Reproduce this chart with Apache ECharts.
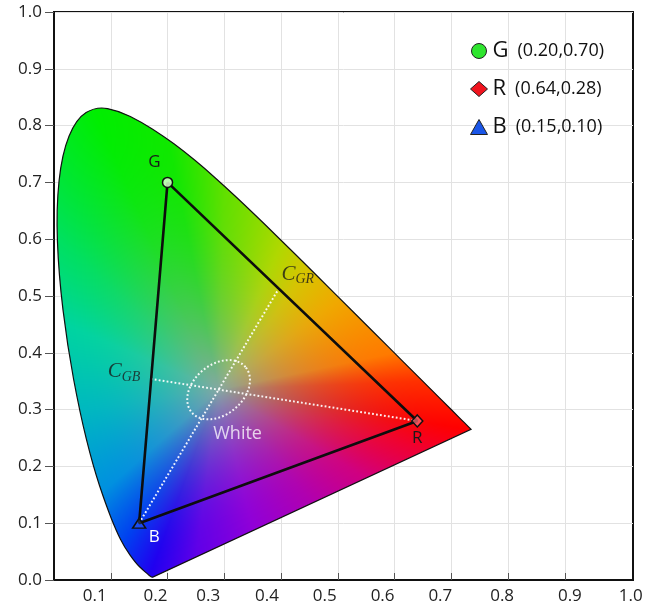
<!DOCTYPE html>
<html>
<head>
<meta charset="utf-8">
<script src="https://cdn.jsdelivr.net/npm/echarts/dist/echarts.min.js"></script>
<style>
  html, body { margin: 0; padding: 0; background: #fff; }
  #main { width: 659px; height: 608px; }
</style>
</head>
<body>
<div id="main"></div>
<script>
// CIE 1931 spectral locus (x, y), 380 nm -> 700 nm
const locusX = [0.1741, 0.1714, 0.1644, 0.1566, 0.1440, 0.1241, 0.1096, 0.0913, 0.0687, 0.0454,
                0.0235, 0.0082, 0.0039, 0.0139, 0.0389, 0.0743, 0.1142, 0.1547, 0.1929, 0.2296,
                0.2658, 0.3016, 0.3373, 0.3731, 0.4087, 0.4441, 0.4788, 0.5125, 0.5448, 0.5752,
                0.6029, 0.6270, 0.6658, 0.6915, 0.7079, 0.7190, 0.7260, 0.7347];
const locusY = [0.0050, 0.0051, 0.0109, 0.0177, 0.0297, 0.0578, 0.0868, 0.1327, 0.2007, 0.2950,
                0.4127, 0.5384, 0.6548, 0.7502, 0.8120, 0.8338, 0.8262, 0.8059, 0.7816, 0.7543,
                0.7243, 0.6923, 0.6589, 0.6245, 0.5896, 0.5547, 0.5202, 0.4866, 0.4544, 0.4242,
                0.3965, 0.3725, 0.3340, 0.3083, 0.2920, 0.2809, 0.2740, 0.2653];

// Primaries of the gamut triangle
const primaryNames = ['G', 'R', 'B'];
const primaryX = [0.20, 0.64, 0.15];
const primaryY = [0.70, 0.28, 0.10];

// Points where the lines through the white point cross the triangle edges
const crossNames = ['GB', 'GR'];
const crossX = [0.171, 0.396];
const crossY = [0.354, 0.513];

// White point and its tolerance ellipse (semi-axes in chromaticity units, tilt in degrees)
const whiteX = 0.29;
const whiteY = 0.335;
const ellipseA = 0.062;
const ellipseB = 0.044;
const ellipseTilt = 40;

// Axis ticks
const xTickValues = [0.1, 0.2, 0.3, 0.4, 0.5, 0.6, 0.7, 0.8, 0.9, 1.0];
const xTickLabels = ['0.1', '0.2', '0.3', '0.4', '0.5', '0.6', '0.7', '0.8', '0.9', '1.0'];
const yTickLabels = ['0.0', '0.1', '0.2', '0.3', '0.4', '0.5', '0.6', '0.7', '0.8', '0.9', '1.0'];

// ---------- styling ----------
const FONT = '"Open Sans", "Noto Sans", sans-serif';
const GRID_COLOR = '#e2e2e2';
const xLabelNudge = [-16, -12, -16, -14, -13, -12, -11, -6, 5, 9];
const xRich = {};
xLabelNudge.forEach((n, i) => {
  xRich['k' + i] = { padding: n < 0 ? [0, -2 * n, 0, 0] : [0, 0, 0, 2 * n] };
});

const primaryColors = ['#2ee52e', '#f0141e', '#1a56e8'];
const legendIcons = ['circle', 'diamond', 'triangle'];
const markerStyles = [
  { symbol: 'circle', size: 10, fill: 'rgba(215,255,205,0.85)' },
  { symbol: 'diamond', size: [11, 12], fill: 'rgba(255,110,120,0.7)' },
  { symbol: 'triangle', size: [13, 10], fill: 'rgba(90,130,255,0.25)' }
];
const labelOffsets = [[-13, -20], [0, 17], [15, 14]];
const labelColors = ['#1a1a1a', '#1a1a1a', '#ffffff'];

// Fill colouring: hue wheel around the white point (angle in degrees -> rim colour),
// blended towards a neutral centre tone.
const rimStops = [
  [2.4, [255, 48, 0]], [11.8, [255, 122, 0]], [36.4, [240, 168, 0]], [53.3, [216, 196, 0]],
  [66.7, [176, 216, 0]], [88.4, [96, 224, 0]], [101.4, [16, 232, 0]], [114, [0, 238, 0]],
  [136.6, [0, 224, 96]], [156.9, [0, 212, 160]], [188.3, [0, 184, 192]], [221.4, [0, 144, 224]],
  [238.3, [0, 64, 240]], [249.7, [32, 0, 240]], [262.3, [96, 0, 232]], [283.8, [144, 0, 216]],
  [309.4, [176, 0, 176]], [329.2, [208, 0, 128]], [343.7, [240, 0, 48]], [351, [255, 0, 0]]
];
const centreTone = [132, 168, 162];

function rimColor(deg) {
  const n = rimStops.length;
  for (let i = 0; i < n; i++) {
    const a = rimStops[i], b = rimStops[(i + 1) % n];
    let a0 = a[0], a1 = b[0], d = deg;
    if (a1 < a0) { a1 += 360; if (d < a0) d += 360; }
    if (d >= a0 && d <= a1) {
      const t = (d - a0) / (a1 - a0);
      return [0, 1, 2].map(c => a[1][c] + (b[1][c] - a[1][c]) * t);
    }
  }
  return rimStops[0][1];
}

let fillCanvas = null;
function buildFill(api) {
  // distance from the white point to the locus outline, per direction
  const N = 1440;
  const rim = new Float32Array(N);
  const n = locusX.length;
  for (let k = 0; k < N; k++) {
    const ang = k / N * Math.PI * 2;
    const dx = Math.cos(ang), dy = Math.sin(ang);
    let best = 1;
    for (let i = 0; i < n; i++) {
      const j = (i + 1) % n;
      const ex = locusX[j] - locusX[i], ey = locusY[j] - locusY[i];
      const wx = locusX[i] - whiteX, wy = locusY[i] - whiteY;
      const den = dx * ey - dy * ex;
      if (Math.abs(den) < 1e-12) continue;
      const t = (wx * ey - wy * ex) / den;
      const u = (wx * dy - wy * dx) / den;
      if (t > 0 && u >= 0 && u <= 1 && t < best) best = t;
    }
    rim[k] = best;
  }

  const w = api.getWidth(), h = api.getHeight();
  const c = document.createElement('canvas');
  c.width = w; c.height = h;
  const ctx = c.getContext('2d');
  const img = ctx.createImageData(w, h);
  const o = api.coord([0, 0]), u = api.coord([1, 1]);
  const sx = u[0] - o[0], sy = u[1] - o[1];
  for (let py = 0; py < h; py++) {
    for (let px = 0; px < w; px++) {
      const x = (px + 0.5 - o[0]) / sx;
      const y = (py + 0.5 - o[1]) / sy;
      if (x < -0.01 || x > 0.76 || y < -0.01 || y > 0.86) continue;
      const dx = x - whiteX, dy = y - whiteY;
      let deg = Math.atan2(dy, dx) * 180 / Math.PI;
      if (deg < 0) deg += 360;
      const r = rim[Math.round(deg / 360 * N) % N];
      const s = Math.min(1, Math.hypot(dx, dy) / r);
      const f = 1 - Math.pow(1 - s, 2.1);
      const col = rimColor(deg);
      const idx = (py * w + px) * 4;
      for (let ch = 0; ch < 3; ch++) {
        img.data[idx + ch] = centreTone[ch] * (1 - f) + col[ch] * f;
      }
      img.data[idx + 3] = 255;
    }
  }
  ctx.putImageData(img, 0, 0);
  return c;
}

// outline path: spectral curve rendered with quadratic segments, closed by the purple line
function locusPath(pts) {
  const mid = (a, b) => [(a[0] + b[0]) / 2, (a[1] + b[1]) / 2];
  const f = p => p[0].toFixed(2) + ' ' + p[1].toFixed(2);
  const n = pts.length;
  let d = 'M' + f(pts[0]) + ' L' + f(mid(pts[0], pts[1]));
  for (let i = 1; i < n - 1; i++) {
    d += ' Q' + f(pts[i]) + ' ' + f(mid(pts[i], pts[i + 1]));
  }
  d += ' L' + f(pts[n - 1]) + ' Z';
  return d;
}

const chart = echarts.init(document.getElementById('main'), null, { renderer: 'canvas' });

const primarySeries = primaryNames.map((name, i) => ({
  name: name,
  type: 'scatter',
  z: 14,
  symbol: markerStyles[i].symbol,
  symbolSize: markerStyles[i].size,
  itemStyle: { color: markerStyles[i].fill, borderColor: '#111', borderWidth: 1.5, opacity: 1 },
  label: {
    show: true,
    position: 'inside',
    offset: labelOffsets[i],
    formatter: name,
    fontFamily: FONT,
    fontSize: 17,
    color: labelColors[i]
  },
  emphasis: { disabled: true },
  data: [[primaryX[i], primaryY[i]]]
}));

const option = {
  backgroundColor: '#ffffff',
  animation: false,
  grid: {
    left: 54, top: 12, right: 26, bottom: 28,
    show: true, borderColor: '#111', borderWidth: 2, backgroundColor: 'transparent'
  },
  legend: {
    orient: 'vertical',
    left: 465,
    top: 35,
    itemWidth: 17,
    itemHeight: 15,
    itemGap: 16,
    selectedMode: false,
    data: primaryNames.map((n, i) => ({
      name: n,
      icon: legendIcons[i],
      itemStyle: { color: primaryColors[i], borderColor: '#222', borderWidth: 1 }
    })),
    formatter: name => {
      const i = primaryNames.indexOf(name);
      return '{n|' + name + '}{c|(' + primaryX[i].toFixed(2) + ',' + primaryY[i].toFixed(2) + ')}';
    },
    textStyle: {
      rich: {
        n: { fontFamily: FONT, fontSize: 22, color: '#111', lineHeight: 24, padding: [0, 9, 0, 0] },
        c: { fontFamily: FONT, fontSize: 18, color: '#111', lineHeight: 24 }
      }
    }
  },
  xAxis: {
    type: 'value',
    min: 0,
    max: 1.02,
    interval: 0.1,
    axisLine: { show: true, lineStyle: { color: '#111', width: 2 } },
    axisTick: {
      show: true, inside: true, length: 7,
      customValues: xTickValues.slice(0, 9),
      lineStyle: { color: '#555', width: 1 }
    },
    splitLine: { show: false },
    axisLabel: {
      customValues: xTickValues,
      margin: 8,
      fontFamily: FONT,
      fontSize: 17,
      color: '#222',
      formatter: v => {
        const i = xTickValues.findIndex(t => Math.abs(t - v) < 1e-6);
        return i < 0 ? '' : '{k' + i + '|' + xTickLabels[i] + '}';
      },
      rich: xRich
    }
  },
  yAxis: {
    type: 'value',
    min: 0,
    max: 1,
    interval: 0.1,
    axisLine: { show: true, lineStyle: { color: '#111', width: 2 } },
    axisTick: { show: true, inside: false, length: 9, lineStyle: { color: '#555', width: 1 } },
    splitLine: { show: true, lineStyle: { color: GRID_COLOR, width: 1 } },
    axisLabel: {
      margin: 12,
      fontFamily: FONT,
      fontSize: 17,
      color: '#222',
      padding: [8, 0, 0, 0],
      formatter: v => yTickLabels[Math.round(v * 10)]
    }
  },
  series: [
    {
      // vertical grid lines at the labelled x ticks
      name: 'x grid',
      type: 'line',
      z: 0,
      silent: true,
      data: [],
      markLine: {
        z: 0,
        silent: true,
        symbol: 'none',
        animation: false,
        label: { show: false },
        lineStyle: { color: GRID_COLOR, width: 1, type: 'solid' },
        emphasis: { disabled: true },
        data: xTickValues.slice(0, 9).map(v => ({ xAxis: v }))
      }
    },
    {
      name: 'locus',
      type: 'custom',
      z: 10,
      silent: true,
      data: [[locusX[0], locusY[0]]],
      renderItem: (params, api) => {
        if (!fillCanvas) fillCanvas = buildFill(api);
        const pts = locusX.map((x, i) => api.coord([x, locusY[i]]));
        return {
          type: 'path',
          shape: { pathData: locusPath(pts) },
          style: {
            fill: { image: fillCanvas, repeat: 'no-repeat' },
            stroke: '#111',
            lineWidth: 1.2
          }
        };
      }
    },
    {
      name: 'R-GB',
      type: 'line',
      z: 12,
      silent: true,
      symbol: 'none',
      lineStyle: { color: 'rgba(255,255,255,0.92)', width: 2, type: [1.8, 2.2] },
      data: [[primaryX[1], primaryY[1]], [crossX[0], crossY[0]]]
    },
    {
      name: 'B-GR',
      type: 'line',
      z: 12,
      silent: true,
      symbol: 'none',
      lineStyle: { color: 'rgba(255,255,255,0.92)', width: 2, type: [1.8, 2.2] },
      data: [[primaryX[2], primaryY[2]], [crossX[1], crossY[1]]]
    },
    {
      name: 'ellipse',
      type: 'custom',
      z: 12,
      silent: true,
      data: [[whiteX, whiteY]],
      renderItem: (params, api) => {
        const t = ellipseTilt * Math.PI / 180;
        const pts = [];
        for (let k = 0; k < 72; k++) {
          const a = k / 72 * Math.PI * 2;
          const ex = ellipseA * Math.cos(a), ey = ellipseB * Math.sin(a);
          pts.push(api.coord([
            whiteX + ex * Math.cos(t) - ey * Math.sin(t),
            whiteY + ex * Math.sin(t) + ey * Math.cos(t)
          ]));
        }
        return {
          type: 'polygon',
          shape: { points: pts },
          style: { fill: 'none', stroke: 'rgba(255,255,255,0.92)', lineWidth: 2, lineDash: [1.8, 2.2] }
        };
      }
    },
    {
      name: 'gamut',
      type: 'line',
      z: 13,
      silent: true,
      symbol: 'none',
      lineStyle: { color: '#0d0d0d', width: 2.6 },
      data: [0, 1, 2, 0].map(i => [primaryX[i], primaryY[i]])
    },
    ...primarySeries,
    {
      name: 'cross labels',
      type: 'scatter',
      z: 15,
      silent: true,
      symbolSize: 1,
      itemStyle: { color: 'rgba(0,0,0,0)' },
      data: crossNames.map((n, i) => ({
        value: [crossX[i], crossY[i]],
        label: { offset: i === 0 ? [-27, -7] : [19, -14] }
      })),
      label: {
        show: true,
        position: 'inside',
        formatter: p => '{c|C}{s|' + crossNames[p.dataIndex] + '}',
        rich: {
          c: { fontFamily: '"Liberation Serif", serif', fontStyle: 'italic', fontSize: 21, color: '#1a1a1a', lineHeight: 24 },
          s: { fontFamily: '"Liberation Serif", serif', fontStyle: 'italic', fontSize: 14, color: '#1a1a1a', lineHeight: 12, verticalAlign: 'bottom' }
        }
      }
    },
    {
      name: 'white label',
      type: 'scatter',
      z: 15,
      silent: true,
      symbolSize: 1,
      itemStyle: { color: 'rgba(0,0,0,0)' },
      data: [[whiteX, whiteY]],
      label: {
        show: true,
        position: 'inside',
        offset: [19, 44],
        formatter: 'White',
        fontFamily: FONT,
        fontSize: 18,
        color: 'rgba(255,255,255,0.95)'
      }
    }
  ]
};

chart.setOption(option);
</script>
</body>
</html>
